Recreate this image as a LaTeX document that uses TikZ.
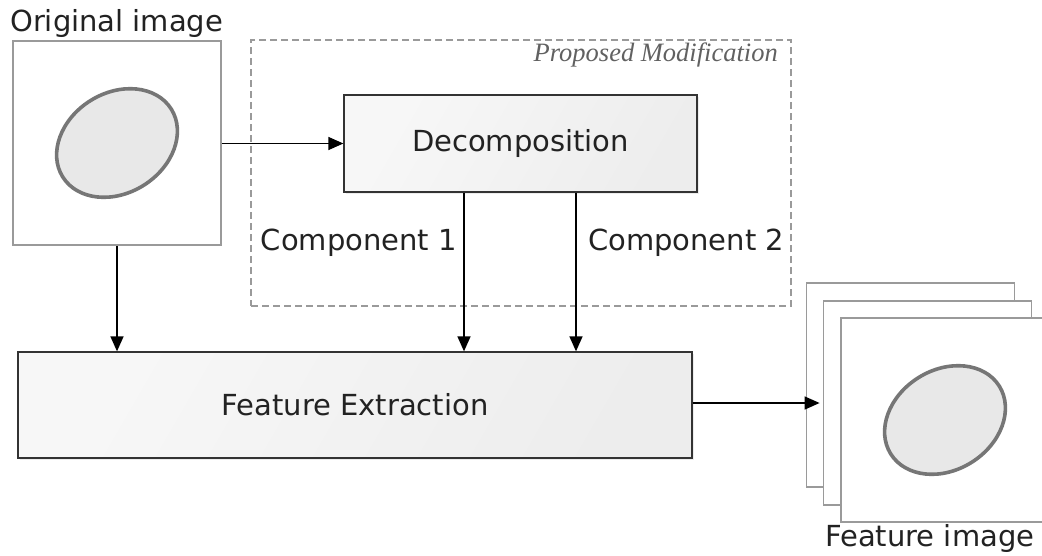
\documentclass[tikz,border=0pt]{standalone}
\usepackage{fontspec}
\setmainfont{DejaVu Sans}
\newfontfamily\noteit{Liberation Serif}[ItalicFont={Liberation Serif Italic}]
\usetikzlibrary{arrows.meta,shadows}
\definecolor{txt}{HTML}{222222}
\definecolor{frame}{HTML}{333333}
\definecolor{pageline}{HTML}{9A9A9A}
\definecolor{blobline}{HTML}{767676}
\definecolor{blobfill}{HTML}{E8E8E8}
\tikzset{
  procbox/.style={draw=frame, line width=1.3pt, shading=axis,
    left color=white!97!black, right color=black!7, shading angle=60,
    drop shadow={opacity=0.15, shadow xshift=2pt, shadow yshift=-2pt},
    text=txt, font=\fontsize{29}{34}\selectfont, inner sep=0pt},
  page/.style={draw=pageline, line width=1.8pt, fill=white,
    minimum width=208pt, minimum height=204pt, inner sep=0pt},
  blob/.style={draw=blobline, line width=3.6pt, fill=blobfill},
  lbl/.style={text=txt, font=\fontsize{29}{34}\selectfont, inner sep=0pt},
  flow/.style={black, line width=1.4pt, -{Triangle[length=15pt,width=13pt]}},
}
\begin{document}
\begin{tikzpicture}[x=1pt, y=-1pt]
\useasboundingbox (0,0) rectangle (1042,555);

% proposed modification region
\node[draw=pageline, line width=1.2pt, dash pattern=on 7pt off 4pt,
      minimum width=540pt, minimum height=266pt, inner sep=0pt]
      (region) at (521,173) {};
\node[anchor=base east, text=black!62, inner sep=0pt,
      font=\noteit\itshape\fontsize{26.5}{30}\selectfont]
      (regionlbl) at (778,61) {Proposed Modification};

% input image
\node[page] (orig) at (117,143) {};
\draw[blob, rotate around={32:(117,143)}] (117,143) ellipse (64pt and 50pt);
\node[lbl, anchor=base west] (origlbl) at (10,31) {Original image};

% processing blocks
\node[procbox, minimum width=353pt, minimum height=97pt] (decomp) at (520.5,143.5) {Decomposition};
\node[procbox, minimum width=674pt, minimum height=106pt] (feat) at (355,405) {Feature Extraction};

% output stack
\node[page] (back) at (910.5,385) {};
\node[page] (mid) at (927.5,403) {};
\node[page] (front) at (945,420) {};
\draw[blob, rotate around={32:(945,420)}] (945,420) ellipse (64pt and 50pt);
\node[lbl, anchor=base west] (featlbl) at (825,546) {Feature image};

% connectors
\coordinate (c1top) at (464,0);
\coordinate (c2top) at (576,0);
\draw[flow] (orig.east |- decomp.west) -- (decomp.west);
\draw[flow] (orig.south) -- (orig.south |- feat.north);
\draw[flow] (decomp.south -| c1top) -- (feat.north -| c1top);
\draw[flow] (decomp.south -| c2top) -- (feat.north -| c2top);
\draw[flow] (feat.east |- mid.west) -- ([xshift=-3pt]mid.west);

\node[lbl, anchor=east] (comp1) at (457,243) {Component 1};
\node[lbl, anchor=west] (comp2) at (588,243) {Component 2};
\end{tikzpicture}
\end{document}
